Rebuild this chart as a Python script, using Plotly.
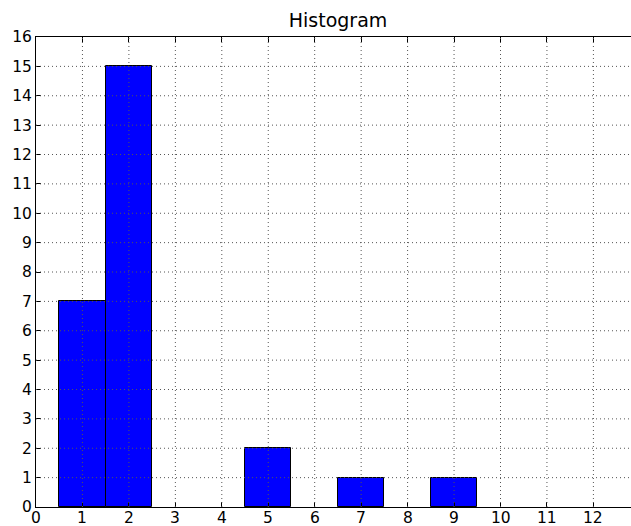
import plotly.graph_objects as go

bin_centers = [1, 2, 3, 4, 5, 6, 7, 8, 9]
counts = [7, 15, 0, 0, 2, 0, 1, 0, 1]
x_ticks = list(range(0, 13))
y_ticks = list(range(0, 17))

W, H = 631, 526
L, R, T, B = 36, 0, 37, 19
PX_PER_UNIT = 46.45
x_max = (W - L - R) / PX_PER_UNIT

bx = [c for c, v in zip(bin_centers, counts) if v > 0]
by = [v for v in counts if v > 0]

fig = go.Figure()
fig.add_trace(go.Bar(
    x=bx, y=by, width=1,
    marker=dict(color="#0000ff", line=dict(color="black", width=1)),
))

# grid drawn above bars (matplotlib classic style)
grid_style = dict(color="#555555", width=1, dash="1px,3px")
shapes = []
for t in x_ticks[1:]:
    shapes.append(dict(type="line", xref="x", yref="paper", x0=t, x1=t, y0=0, y1=1,
                       line=grid_style, layer="above"))
for t in y_ticks[1:-1]:
    shapes.append(dict(type="line", xref="paper", yref="y", x0=0, x1=1, y0=t, y1=t,
                       line=grid_style, layer="above"))

font = dict(family="DejaVu Sans", size=15.5, color="black")

# x tick labels as annotations so they sit closer to the axis
annotations = [
    dict(x=t, y=0, xref="x", yref="paper", text=str(t), showarrow=False,
         xanchor="center", yanchor="middle", yshift=-11, font=font)
    for t in x_ticks
]

fig.update_layout(
    width=W, height=H,
    margin=dict(l=L, r=R, t=T, b=B, pad=0, autoexpand=False),
    paper_bgcolor="white", plot_bgcolor="white",
    font=font, showlegend=False, bargap=0,
    shapes=shapes, annotations=annotations,
    title=dict(text="Histogram", x=338 / W, xanchor="center", xref="container",
               y=1 - 20.5 / H, yanchor="middle", yref="container", automargin=False,
               font=dict(family="DejaVu Sans", size=19, color="black")),
)
fig.update_xaxes(
    range=[0, x_max], tickvals=x_ticks, showticklabels=False,
    showline=True, linecolor="black", linewidth=1, mirror="ticks",
    ticks="inside", ticklen=5, tickcolor="black", tickwidth=1,
    showgrid=False, zeroline=False, automargin=False,
    layer="above traces",
)
fig.update_yaxes(
    range=[0, 16], tickvals=y_ticks, ticktext=[str(t) for t in y_ticks],
    showline=True, linecolor="black", linewidth=1, mirror=False,
    ticks="inside", ticklen=5, tickcolor="black", tickwidth=1,
    showgrid=False, zeroline=False, tickfont=font, automargin=False,
    layer="above traces",
)
fig.write_html(
    "out.html",
    config={"displayModeBar": False},
    post_script="document.body.style.margin='0px';document.body.style.overflow='hidden';",
)
